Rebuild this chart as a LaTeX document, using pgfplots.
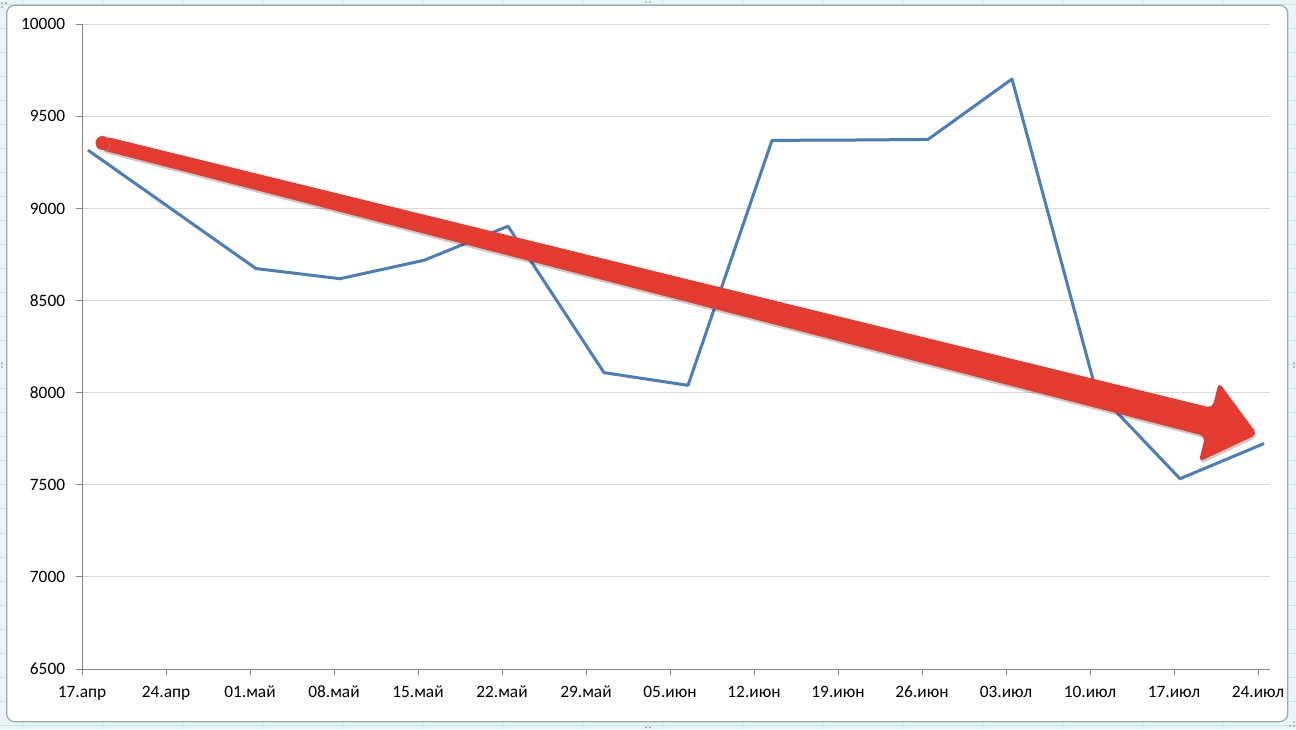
\documentclass[border=0pt]{standalone}
\usepackage{fontspec}
\setmainfont{Carlito}
\usepackage{pgfplots}
\pgfplotsset{compat=1.18}
\definecolor{serie}{RGB}{74,126,187}
\definecolor{arrowred}{RGB}{227,59,47}
\definecolor{shadowc}{RGB}{170,170,170}
\definecolor{gridc}{RGB}{217,217,217}
\definecolor{axisc}{RGB}{134,134,134}
\definecolor{sheet}{RGB}{232,246,247}
\definecolor{sheetline}{RGB}{198,230,232}
\definecolor{framec}{RGB}{165,165,165}
\begin{document}
\begin{tikzpicture}
\begin{scope}[x=0.75pt,y=0.75pt]
\fill[sheet] (0,0) rectangle (1296,729);
\foreach \x in {22.7,102.7,...,1296} \draw[sheetline,line width=0.75pt] (\x,0)--(\x,729);
\foreach \y in {4,28,...,729} \draw[sheetline,line width=0.75pt] (0,\y)--(1296,\y);
\draw[framec,fill=white,line width=0.9pt,rounded corners=6] (6.7,7.3) rectangle (1287.7,723.7);
\foreach \p in {(2,726),(6,726),(2,722),(646,727),(650,727),(646,1.5),(650,1.5),(2,362),(2,366),(1294,362),(1294,366),(1290,3),(1294,3),(1294,7)}
  \fill[gray] \p circle (0.9);
\end{scope}
\begin{axis}[
  at={(61.5pt,45pt)}, anchor=south west,
  scale only axis, width=891pt, height=483.5pt,
  xmin=0, xmax=99, ymin=6500, ymax=10000,
  axis x line*=bottom, axis y line*=left,
  axis line style={axisc,line width=0.75pt},
  tick style={axisc,line width=0.75pt},
  tick align=outside, major tick length=4.5pt,
  xtick={0,7,...,98},
  xticklabels={17.апр,24.апр,01.май,08.май,15.май,22.май,29.май,05.июн,12.июн,19.июн,26.июн,03.июл,10.июл,17.июл,24.июл},
  ytick={6500,7000,...,10000},
  scaled ticks=false,
  ymajorgrids, grid style={gridc,line width=0.75pt},
  /pgf/number format/assume math mode=true,
  /pgf/number format/1000 sep={},
  ticklabel style={font=\fontsize{13}{15}\selectfont, text=black},
  yticklabel style={inner sep=0pt, xshift=-8pt},
  xticklabel style={inner sep=0pt, yshift=-8pt},
  clip=false,
]
\addplot[serie, line width=2.25pt, line join=round] coordinates {
(0.5,9317) (14.5,8674) (21.5,8619) (28.5,8719) (35.5,8904) (43.5,8109)
(50.5,8040) (57.5,9370) (64.5,9372) (70.5,9375) (77.5,9703) (84.5,8012)
(91.5,7533) (98.5,7724)};
% shadow of the arrow
\begin{scope}[transparency group, opacity=0.45]
\addplot[draw=none, fill=shadowc, rounded corners=4pt] coordinates {
(1.934,9378.9) (94.280,7903.2) (94.820,8042.6) (98.024,7760.5) (93.148,7611.0) (93.688,7750.5)
(1.649,9305.1)} --cycle;
\addplot[shadowc, only marks, mark=*, mark size=5pt, mark options={draw=none, fill=shadowc}] coordinates {(1.791,9342)};
\end{scope}
% arrow
\addplot[draw=none, fill=arrowred, rounded corners=4pt] coordinates {
(1.851,9392.5) (94.197,7916.8) (94.737,8056.2) (97.941,7774.1) (93.065,7624.6) (93.605,7764.1)
(1.566,9318.7)} --cycle;
\addplot[arrowred, only marks, mark=*, mark size=5pt, mark options={draw=none, fill=arrowred}] coordinates {(1.708,9355.6)};
\end{axis}
\pgfresetboundingbox
\useasboundingbox (0,0) rectangle (972pt,546.75pt);
\end{tikzpicture}
\end{document}
